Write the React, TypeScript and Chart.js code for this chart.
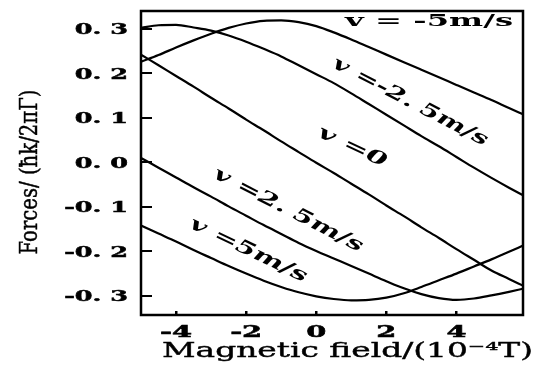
import React, { useEffect, useRef } from "react";
import { Chart, registerables } from "chart.js";

Chart.register(...registerables);

// Magnetic field sample positions (10^-4 T)
const fieldX = [-5, -4.5, -4, -3.5, -3, -2.5, -2, -1.5, -1, -0.5, 0, 0.5, 1, 1.5, 2, 2.5, 3, 3.5, 4, 4.5, 5, 5.5, 5.9];

// Force (ħkΓ/2π units) for each atom velocity
const forceVm5 = [0.226, 0.241, 0.258, 0.274, 0.289, 0.302, 0.312, 0.318, 0.319, 0.315, 0.306, 0.292, 0.276, 0.259, 0.242, 0.225, 0.208, 0.191, 0.174, 0.157, 0.14, 0.122, 0.108];
const forceVm25 = [0.302, 0.308, 0.309, 0.303, 0.296, 0.285, 0.271, 0.255, 0.238, 0.218, 0.198, 0.178, 0.155, 0.131, 0.107, 0.083, 0.059, 0.036, 0.012, -0.012, -0.035, -0.057, -0.074];
const forceV0 = [0.242, 0.218, 0.194, 0.17, 0.145, 0.121, 0.096, 0.072, 0.047, 0.023, -0.001, -0.024, -0.048, -0.072, -0.097, -0.121, -0.146, -0.17, -0.195, -0.219, -0.243, -0.262, -0.277];
const forceVp25 = [0.01, -0.012, -0.034, -0.056, -0.077, -0.099, -0.12, -0.141, -0.161, -0.181, -0.199, -0.216, -0.233, -0.25, -0.267, -0.283, -0.296, -0.305, -0.309, -0.306, -0.299, -0.291, -0.284];
const forceVp5 = [-0.142, -0.16, -0.178, -0.197, -0.215, -0.233, -0.25, -0.266, -0.28, -0.292, -0.301, -0.307, -0.31, -0.309, -0.304, -0.294, -0.28, -0.265, -0.25, -0.234, -0.218, -0.201, -0.187];

const seriesValues = [forceVm5, forceVm25, forceV0, forceVp25, forceVp5];

// Axis ticks
const xTickValues = [-4, -2, 0, 2, 4];
const xTickLabels = ["-4", "-2", "0", "2", "4"];
const yTickValues = [0.3, 0.2, 0.1, 0, -0.1, -0.2, -0.3];
const yTickLabels = ["0. 3", "0. 2", "0. 1", "0. 0", "-0. 1", "-0. 2", "-0. 3"];

const xTitle = "Magnetic field/(10\u207B\u2074T)";
const yTitle = "Forces/ (\u0127k/2\u03C0\u0393)";

// Curve labels, anchored in data coordinates
const curveLabelTexts = ["v = -5m/s", "v =-2. 5m/s", "v =0", "v =2. 5m/s", "v =5m/s"];
const curveLabelX = [3.22, 2.68, 1.03, -0.8, -1.94];
const curveLabelY = [0.317, 0.135, 0.034, -0.108, -0.198];

// styling of the labels
const curveLabelAngle = [0, 27.5, 25, 27, 25.5];
const curveLabelLength = [168, 172, 74, 165, 128];
const curveLabelFont = ["bold", "italic bold", "italic bold", "italic bold", "italic bold"];
const curveLabelScaleY = [1.15, 1.25, 1.25, 1.25, 1.25];

const FONT = '"DejaVu Serif", "Liberation Serif", serif';

function drawFitted(ctx: CanvasRenderingContext2D, text: string, font: string, cx: number, cy: number, angleDeg: number, targetW: number, sy: number, stroke = 0) {
  ctx.save();
  ctx.font = font;
  const w = ctx.measureText(text).width;
  ctx.translate(cx, cy);
  ctx.rotate((angleDeg * Math.PI) / 180);
  ctx.scale(targetW / w, sy);
  ctx.textAlign = "center";
  ctx.textBaseline = "middle";
  ctx.fillText(text, 0, 0);
  if (stroke > 0) {
    ctx.lineWidth = stroke;
    ctx.strokeText(text, 0, 0);
  }
  ctx.restore();
}

const textPlugin = {
  id: "textPlugin",
  afterDraw(chart: any) {
    const ctx: CanvasRenderingContext2D = chart.ctx;
    const xs = chart.scales.x;
    const ys = chart.scales.y;
    const area = chart.chartArea;
    ctx.save();
    ctx.fillStyle = "#000";
    ctx.strokeStyle = "#000";

    // frame
    ctx.lineWidth = 2.5;
    ctx.strokeRect(area.left, area.top, area.right - area.left, area.bottom - area.top);

    // y tick labels
    ctx.font = `bold 15px ${FONT}`;
    ctx.textAlign = "right";
    ctx.textBaseline = "alphabetic";
    ctx.lineWidth = 0.5;
    yTickValues.forEach((v, i) => {
      const py = ys.getPixelForValue(v);
      ctx.save();
      ctx.translate(area.left - 13, py + 5.5);
      ctx.scale(1.7, 1);
      ctx.fillText(yTickLabels[i], 0, 0);
      ctx.strokeText(yTickLabels[i], 0, 0);
      ctx.restore();
    });

    // x tick labels
    ctx.font = `bold 16px ${FONT}`;
    ctx.textAlign = "center";
    xTickValues.forEach((v, i) => {
      const px = xs.getPixelForValue(v);
      ctx.save();
      ctx.translate(px, area.bottom + 22);
      ctx.scale(1.8, 1);
      ctx.fillText(xTickLabels[i], 0, 0);
      ctx.strokeText(xTickLabels[i], 0, 0);
      ctx.restore();
    });

    // axis titles
    drawFitted(ctx, xTitle, `20px ${FONT}`, (162 + 533) / 2, area.bottom + 37, 0, 371, 1.0, 0.4);
    drawFitted(ctx, yTitle, `16px ${FONT}`, 31, 172, -90, 165, 1.5, 0.3);

    // curve labels
    curveLabelTexts.forEach((t, i) => {
      const px = xs.getPixelForValue(curveLabelX[i]);
      const py = ys.getPixelForValue(curveLabelY[i]);
      drawFitted(ctx, t, `${curveLabelFont[i]} 15px ${FONT}`, px, py, curveLabelAngle[i], curveLabelLength[i], curveLabelScaleY[i]);
    });
    ctx.restore();
  },
};

export default function App() {
  const ref = useRef<HTMLCanvasElement | null>(null);
  useEffect(() => {
    document.body.style.margin = "0";
    const canvas = ref.current;
    if (!canvas) return;
    const chart = new Chart(canvas, {
      type: "line",
      data: {
        datasets: seriesValues.map((vals) => ({
          data: fieldX.map((x, i) => ({ x, y: vals[i] })),
          borderColor: "#000",
          borderWidth: 2.2,
          pointRadius: 0,
          fill: false,
          cubicInterpolationMode: "monotone" as const,
        })),
      },
      options: {
        animation: false,
        responsive: false,
        devicePixelRatio: 1,
        layout: { padding: { left: 0, top: 11, right: 21, bottom: 0 } },
        plugins: { legend: { display: false }, tooltip: { enabled: false } },
        scales: {
          x: {
            type: "linear",
            min: -5,
            max: 5.9,
            afterBuildTicks: (s: any) => {
              s.ticks = xTickValues.map((v) => ({ value: v }));
            },
            afterFit: (s: any) => {
              s.height = 52;
            },
            ticks: { display: false },
            border: { display: false },
            grid: { drawOnChartArea: false, drawTicks: true, tickLength: -4, color: "#000", lineWidth: 2.5 },
          },
          y: {
            type: "linear",
            min: -0.343,
            max: 0.34,
            afterBuildTicks: (s: any) => {
              s.ticks = yTickValues.map((v) => ({ value: v }));
            },
            afterFit: (s: any) => {
              s.width = 141;
            },
            ticks: { display: false },
            border: { display: false },
            grid: { drawOnChartArea: false, drawTicks: true, tickLength: -11, color: "#000", lineWidth: 2 },
          },
        },
      },
      plugins: [textPlugin],
    });
    return () => chart.destroy();
  }, []);
  return <canvas ref={ref} width={544} height={367} style={{ display: "block", width: 544, height: 367 }} />;
}
